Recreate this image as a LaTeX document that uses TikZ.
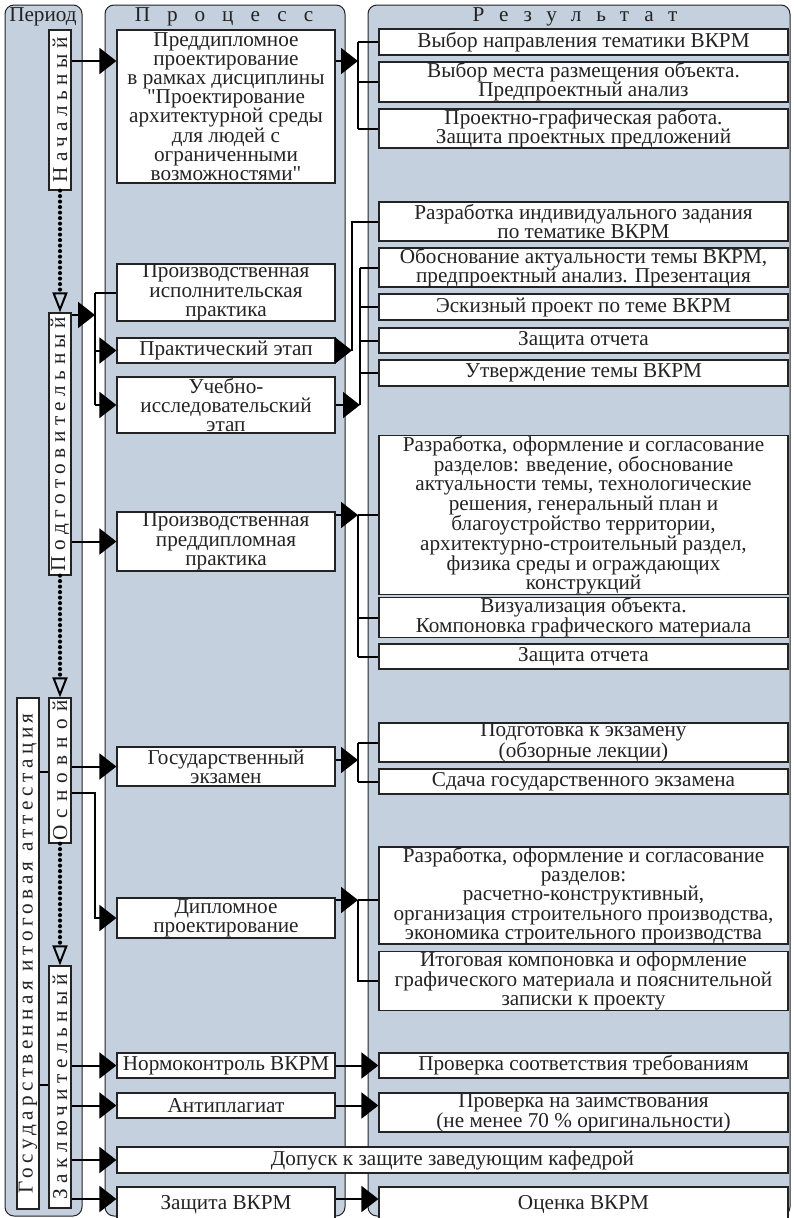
\documentclass[tikz,border=0pt]{standalone}
\usepackage{fontspec}
\setmainfont{Liberation Serif}[Ligatures=TeXOff]
\usetikzlibrary{arrows.meta}
\definecolor{panelblue}{RGB}{197,208,222}
\definecolor{inkgray}{RGB}{35,35,35}
\newcommand{\spaced}[2]{{\addfontfeature{LetterSpace=#1}#2}}
\tikzset{
  panel/.style={draw=inkgray, line width=1pt, fill=panelblue, rounded corners=9pt},
  pbox/.style={draw=inkgray, line width=1.2pt, fill=white, align=center, inner sep=0pt,
              minimum width=218pt, text=inkgray, font=\fontsize{21.2}{19.2}\selectfont},
  rbox/.style={pbox, minimum width=409pt},
  stage/.style={draw=inkgray, line width=1.2pt, fill=white, rotate=90, inner sep=0pt,
              minimum height=22pt, text=inkgray, font=\fontsize{21.2}{19.2}\selectfont},
  head/.style={inner sep=0pt, text=inkgray, font=\fontsize{21.2}{19.2}\selectfont},
  arr/.style={-{Triangle[length=17pt,width=26pt]}, line width=2pt, draw=black},
  link/.style={line width=2pt, draw=black},
  dotarr/.style={-{Triangle[open,length=20pt,width=15pt,line width=2pt]}, line width=4.2pt,
              line cap=round, dash pattern=on 0pt off 5.5pt, draw=black}
}
\begin{document}
\begin{tikzpicture}[x=1pt, y=-1pt]
    \useasboundingbox (0,0) rectangle (793,1218);
    \draw[panel] (5,5) rectangle (82,1216);
    \draw[panel] (105,5) rectangle (345,1216);
    \draw[panel] (368,5) rectangle (790,1216);

    \node[head] (hperiod) at (43,17) {Период};
    \node[head] (hproc) at (224,17) {\spaced{80}{Процесс}};
    \node[head] (hres) at (575,17) {\spaced{70}{Результат}};

    % periods
    \node[stage, minimum width=160pt] (s1) at (60,110) {\spaced{26}{Начальный}};
    \node[stage, minimum width=262pt] (s2) at (60,444) {\spaced{26}{Подготовительный}};
    \node[stage, minimum width=145pt] (s3) at (60,770.5) {\spaced{34}{Основной}};
    \node[stage, minimum width=242pt] (s4) at (60,1087) {\spaced{26}{Заключительный}};
    \node[stage, minimum width=511pt] (gia) at (28,953.5) {\spaced{21}{Государственная итоговая аттестация}};

    % process
    \node[pbox, minimum height=153pt] (p1) at (226,106.5) {Преддипломное\\проектирование\\в рамках дисциплины\\"Проектирование\\архитектурной среды\\для людей с\\ограниченными\\возможностями"};
    \node[pbox, minimum height=57pt] (p2) at (226,292.5) {Производственная\\исполнительская\\практика};
    \node[pbox, minimum height=25pt] (p3) at (226,350.5) {Практический этап};
    \node[pbox, minimum height=56pt] (p4) at (226,405) {Учебно-\\исследовательский\\этап};
    \node[pbox, minimum height=59pt] (p5) at (226,541.5) {Производственная\\преддипломная\\практика};
    \node[pbox, minimum height=39pt] (p6) at (226,766.5) {Государственный\\экзамен};
    \node[pbox, minimum height=40pt] (p7) at (226,918) {Дипломное\\проектирование};
    \node[pbox, minimum height=25pt] (p8) at (226,1065.5) {Нормоконтроль ВКРМ};
    \node[pbox, minimum height=25pt] (p9) at (226,1105.5) {Антиплагиат};
    \node[pbox, minimum width=671pt, minimum height=26pt] (p10) at (452.5,1160) {Допуск к защите заведующим кафедрой};
    \node[pbox, minimum height=35pt] (p11) at (226,1204.5) {Защита ВКРМ};

    % results
    \node[rbox, minimum height=26pt] (r1) at (583.5,42) {Выбор направления тематики ВКРМ};
    \node[rbox, minimum height=40pt] (r2) at (583.5,82) {Выбор места размещения объекта.\\Предпроектный анализ};
    \node[rbox, minimum height=39pt] (r3) at (583.5,128.5) {Проектно-графическая работа.\\Защита проектных предложений};
    \node[rbox, minimum height=39pt] (r4) at (583.5,221.5) {Разработка индивидуального задания\\по тематике ВКРМ};
    \node[rbox, minimum height=39pt] (r5) at (583.5,267.5) {Обоснование актуальности темы ВКРМ,\\предпроектный анализ. Презентация};
    \node[rbox, minimum height=26pt] (r6) at (583.5,307) {Эскизный проект по теме ВКРМ};
    \node[rbox, minimum height=25pt] (r7) at (583.5,340.5) {Защита отчета};
    \node[rbox, minimum height=26pt] (r8) at (583.5,373) {Утверждение темы ВКРМ};
    \node[rbox, minimum height=154pt] (r9) at (583.5,515) {Разработка, оформление и согласование\\разделов: введение, обоснование\\актуальности темы, технологические\\решения, генеральный план и\\благоустройство территории,\\архитектурно-строительный раздел,\\физика среды и ограждающих\\конструкций};
    \node[rbox, minimum height=39pt] (r10) at (583.5,617.5) {Визуализация объекта.\\Компоновка графического материала};
    \node[rbox, minimum height=25pt] (r11) at (583.5,656.5) {Защита отчета};
    \node[rbox, minimum height=39pt] (r12) at (583.5,742.5) {Подготовка к экзамену\\(обзорные лекции)};
    \node[rbox, minimum height=25pt] (r13) at (583.5,781.5) {Сдача государственного экзамена};
    \node[rbox, minimum height=97pt] (r14) at (583.5,895.5) {Разработка, оформление и согласование\\разделов:\\расчетно-конструктивный,\\организация строительного производства,\\экономика строительного производства};
    \node[rbox, minimum height=58pt] (r15) at (583.5,981) {Итоговая компоновка и оформление\\графического материала и пояснительной\\записки к проекту};
    \node[rbox, minimum height=25pt] (r16) at (583.5,1065.5) {Проверка соответствия требованиям};
    \node[rbox, minimum height=39pt] (r17) at (583.5,1112.5) {Проверка на заимствования\\(не менее 70~\% оригинальности)};
    \node[rbox, minimum height=35pt] (r19) at (583.5,1204.5) {Оценка ВКРМ};

    \coordinate (jl) at (95,0);
    \coordinate (ja) at (358,0);
    \coordinate (jb) at (352,0);
    \coordinate (jc) at (360,0);

    % period -> process
    \draw[dotarr] (s1.west) -- (s2.east);
    \draw[dotarr] (s2.west) -- (s3.east);
    \draw[dotarr] (s3.west) -- (s4.east);
    \draw[link, line width=1.5pt] (gia.south |- 0,772) -- (s3.north |- 0,772);
    \draw[link, line width=1.5pt] (gia.south |- 0,1085) -- (s4.north |- 0,1085);
    \draw[arr] (s1.south |- 0,61) -- (p1.west |- 0,61);
    \draw[arr] (s2.south |- 0,315) -- (jl |- 0,315);
    \draw[link] (jl |- p2) -- (jl |- p4);
    \draw[link] (jl |- p2) -- (p2.west);
    \draw[arr] (jl |- p3) -- (p3.west);
    \draw[arr] (jl |- p4) -- (p4.west);
    \draw[arr] (s2.south |- p5) -- (p5.west);
    \draw[arr] (s3.south |- p6) -- (p6.west);
    \draw[arr] (s3.south |- 0,793) -| (jl |- p7) -- (p7.west);
    \foreach \n in {p8,p9,p10}
      \draw[arr] (s4.south |- \n) -- (\n.west);
    \draw[arr] (s4.south |- 0,1199) -- (p11.west |- 0,1199);

    % process -> result
    \draw[arr] (p1.east |- 0,61) -- (ja |- 0,61);
    \draw[link] (ja |- r1) -- (ja |- r3);
    \foreach \n in {r1,r2,r3}
      \draw[link] (ja |- \n) -- (\n.west);
    \draw[arr] (p3.east) -- (jb |- p3);
    \draw[link] (jb |- p3) -- (jb |- r4) -- (r4.west);
    \draw[arr] (p4.east) -- (jc |- p4);
    \draw[link] (jc |- p4) -- (jc |- r5);
    \foreach \n in {r5,r6,r7,r8}
      \draw[link] (jc |- \n) -- (\n.west);
    \draw[arr] (p5.east |- r9) -- (ja |- r9);
    \draw[link] (ja |- r9) -- (ja |- r11);
    \foreach \n in {r9,r10,r11}
      \draw[link] (ja |- \n) -- (\n.west);
    \draw[arr] (p6.east |- 0,760) -- (ja |- 0,760);
    \draw[link] (ja |- r12) -- (ja |- r13);
    \foreach \n in {r12,r13}
      \draw[link] (ja |- \n) -- (\n.west);
    \draw[arr] (p7.east |- 0,900) -- (ja |- 0,900);
    \draw[link] (ja |- 0,900) -- (r14.west |- 0,900);
    \draw[link] (ja |- 0,900) -- (ja |- r15) -- (r15.west);
    \draw[arr] (p8.east) -- (r16.west |- p8);
    \draw[arr] (p9.east) -- (r17.west |- p9);
    \draw[arr] (p11.east |- 0,1199) -- (r19.west |- 0,1199);
\end{tikzpicture}
\end{document}
